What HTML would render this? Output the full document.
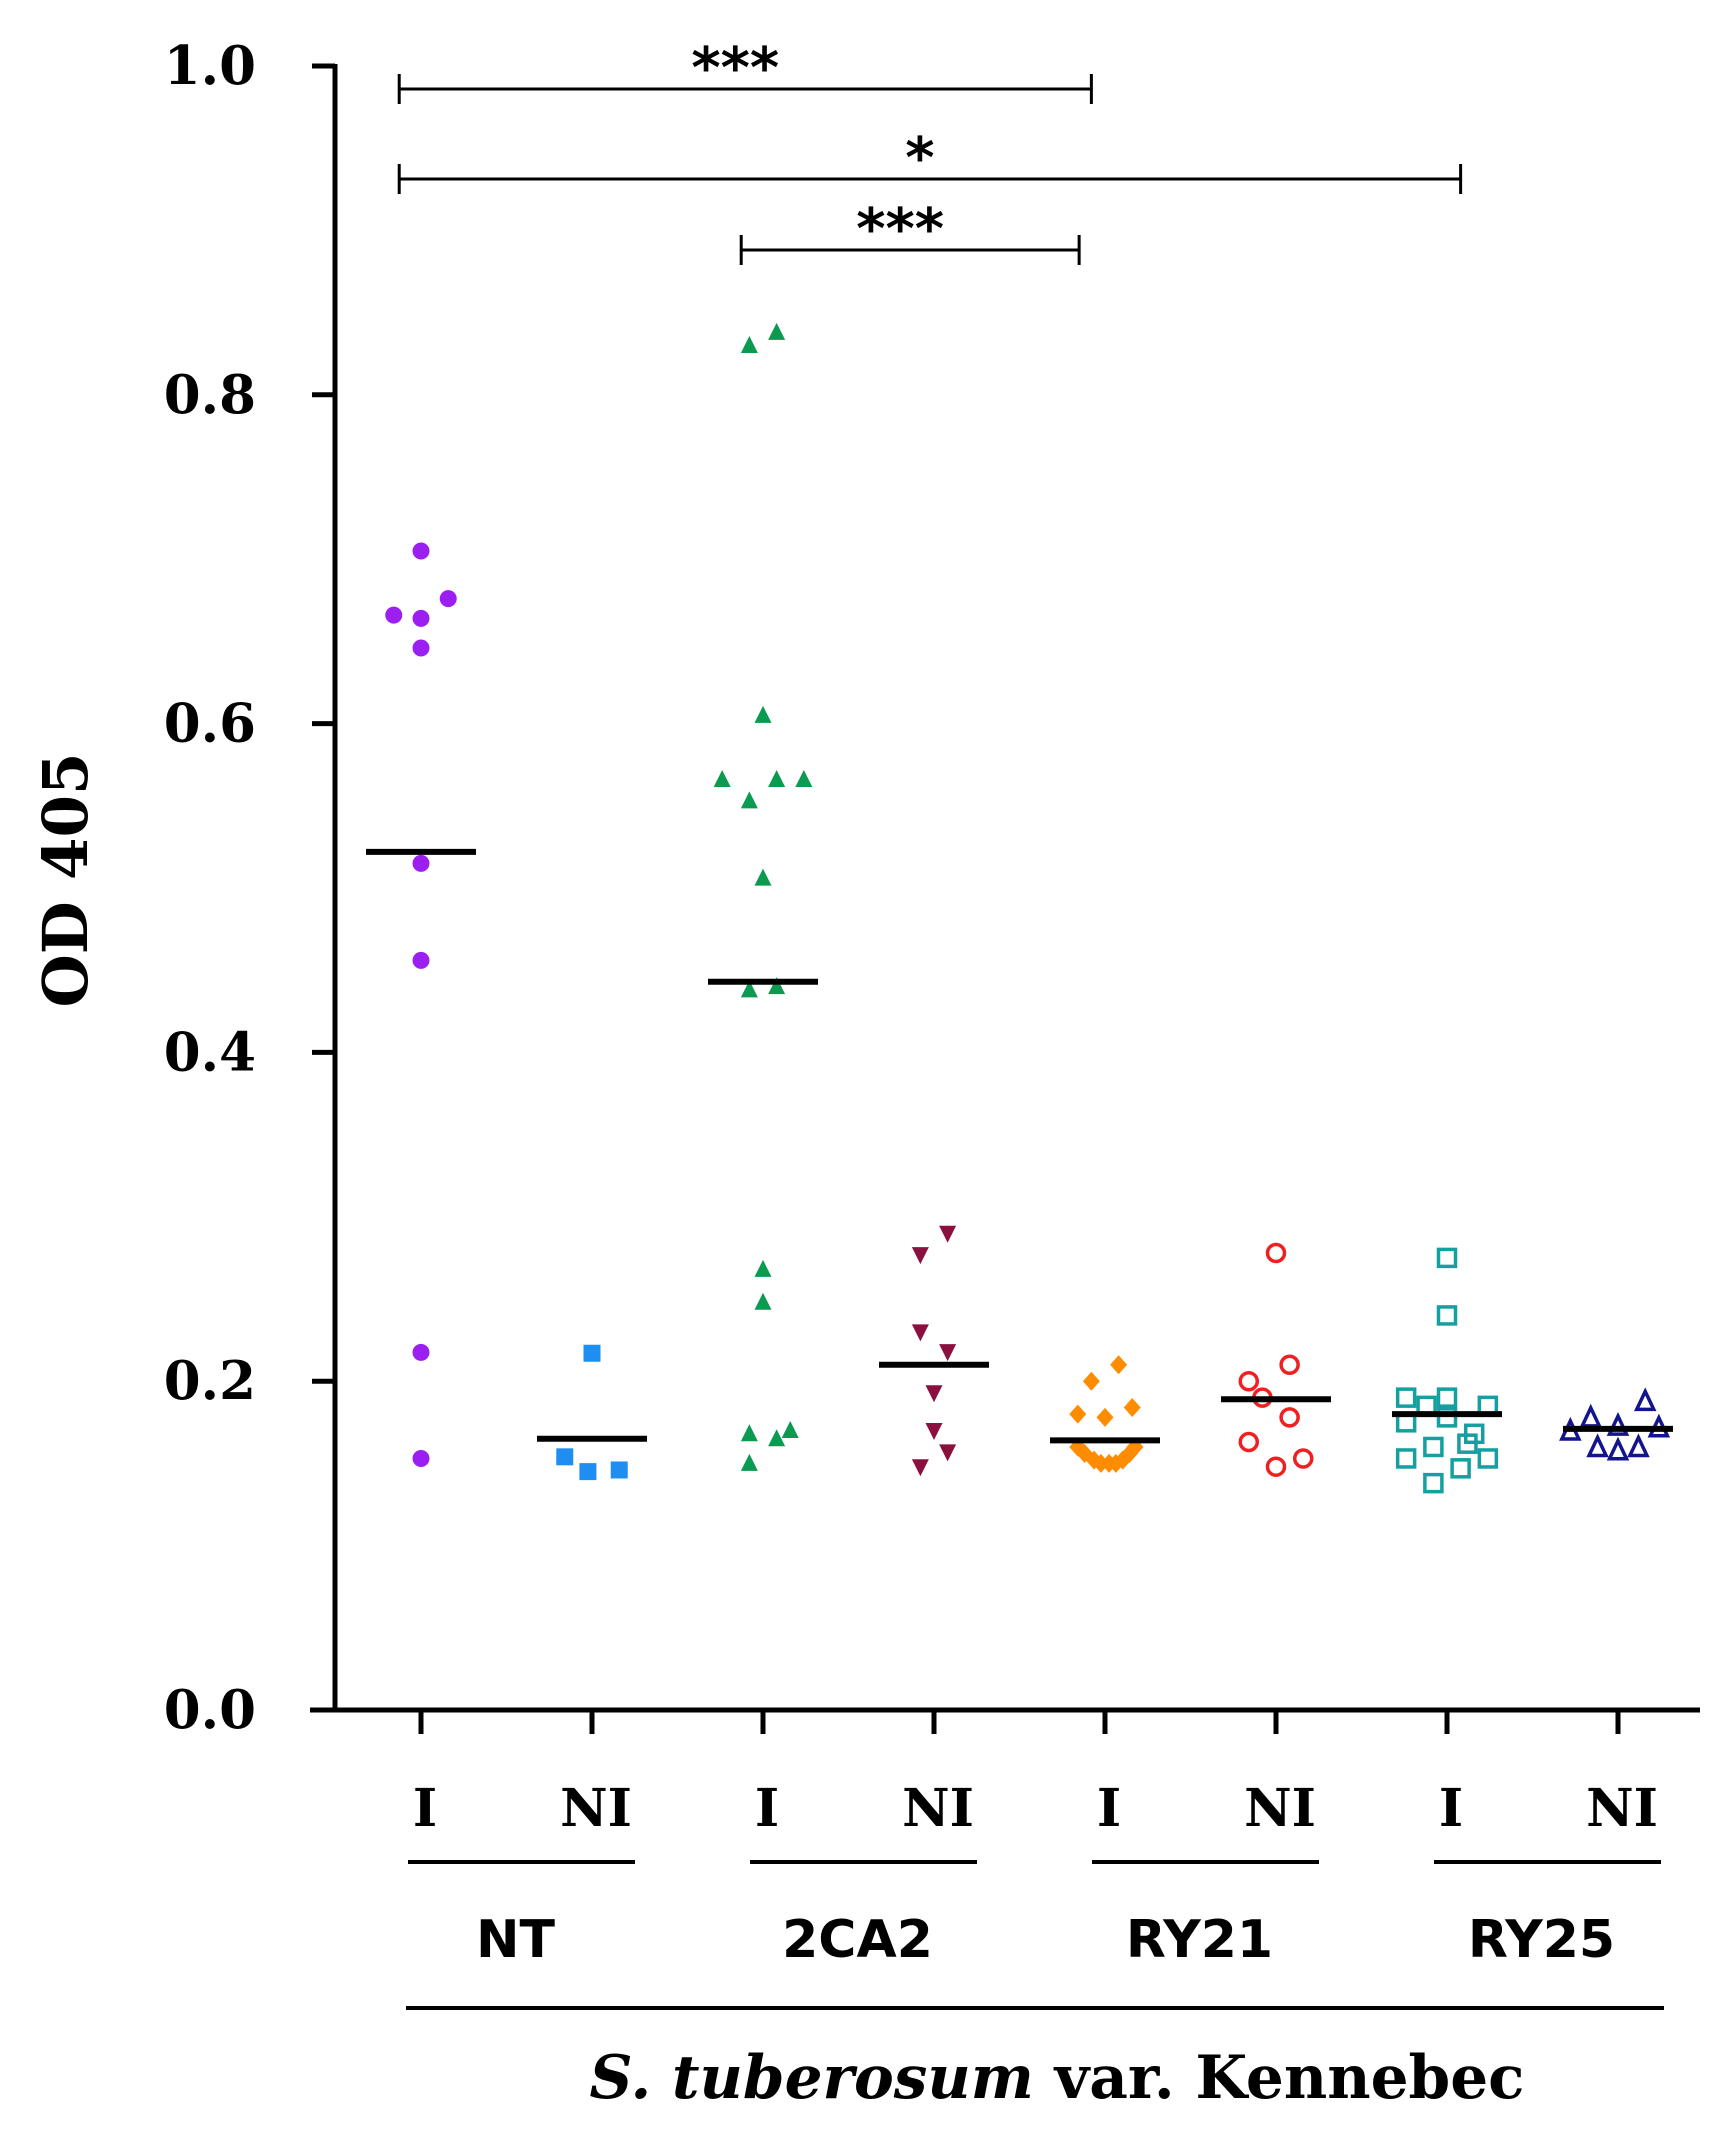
<!DOCTYPE html>
<html><head><meta charset="utf-8"><style>
html,body{margin:0;padding:0;background:#fff}
svg{display:block}
</style></head><body>
<svg id="chart" width="1728" height="2146" viewBox="0 0 1728 2146" xmlns="http://www.w3.org/2000/svg">
<g id="axes"></g>
<g id="marks"></g>
<text x="0" y="0" transform="translate(87,880) rotate(-90)" text-anchor="middle" font-family="DejaVu Serif, serif" font-weight="bold" font-size="62" textLength="255" lengthAdjust="spacingAndGlyphs">OD 405</text>
<text x="1057" y="2098" text-anchor="middle" font-family="DejaVu Serif, serif" font-weight="bold" font-size="60" textLength="935" lengthAdjust="spacingAndGlyphs"><tspan font-style="italic">S. tuberosum</tspan> var. Kennebec</text>
</svg>
<script>
const categories = ["I","NI","I","NI","I","NI","I","NI"];
const groups = ["NT","2CA2","RY21","RY25"];
const yTicks = [0,0.2,0.4,0.6,0.8,1.0];
const yTickLabels = ["0.0","0.2","0.4","0.6","0.8","1.0"];
const colors = ["#9b1ff0","#1e8ff0","#0a9a50","#8b1040","#ff8c00","#f02020","#14a0a0","#14148c"];
const shapes = ["circle","square","tri","tridown","diamond","ocircle","osquare","otri"];
const means = [0.522,0.165,0.443,0.210,0.164,0.189,0.180,0.171];
const values = [
 [0.705,0.666,0.664,0.676,0.646,0.515,0.456,0.2175,0.153],
 [0.217,0.154,0.145,0.146],
 [0.830,0.838,0.605,0.566,0.566,0.566,0.553,0.506,0.438,0.440,0.268,0.248,0.168,0.150,0.165,0.170],
 [0.290,0.277,0.230,0.218,0.193,0.170,0.157,0.148],
 [0.210,0.200,0.180,0.178,0.184,0.160,0.156,0.152,0.150,0.150,0.150,0.152,0.156,0.160],
 [0.278,0.200,0.190,0.210,0.178,0.163,0.148,0.153],
 [0.275,0.240,0.190,0.190,0.185,0.185,0.175,0.178,0.168,0.160,0.153,0.147,0.153,0.138,0.162],
 [0.188,0.178,0.170,0.172,0.173,0.160,0.158,0.160]
];
const jitter = [
 [0,-20,0,20,0,0,0,0,0],
 [0,-20,-3,20],
 [-10,10,0,-30,10,30,-10,0,-10,10,0,0,-10,-10,10,20],
 [10,-10,-10,10,0,0,10,-10],
 [10,-10,-20,0,20,-20,-15,-8,-3,3,8,13,18,22],
 [0,-20,-10,10,10,-20,0,20],
 [0,0,-30,0,-15,30,-30,0,20,-10,-30,10,30,-10,15],
 [20,-20,-35,30,0,-15,0,15]
];
const brackets = [[0,4,"***"],[0,6,"*"],[2,4,"***"]];
const bracketEndOffset = [-10,10,-19];
const bracketY = [89,179,250];

const NS="http://www.w3.org/2000/svg";
const X0=421, DX=171, Y0=1710, YH=1644, S=1.3617;
const xs=i=>X0+DX*i;
const ys=v=>Y0-v*YH;
function el(tag,attrs,parent){const e=document.createElementNS(NS,tag);for(const k in attrs)e.setAttribute(k,attrs[k]);parent.appendChild(e);return e;}
const axes=document.getElementById('axes'), marks=document.getElementById('marks');

let e=el('line',{x1:335,y1:ys(1)-2,x2:335,y2:Y0+2,stroke:'#000','stroke-width':5},axes);


e=el('line',{x1:310,y1:Y0,x2:1700,y2:Y0,stroke:'#000','stroke-width':5},axes);


yTicks.forEach((t,i)=>{
 let l=el('line',{x1:312,y1:ys(t),x2:335,y2:ys(t),stroke:'#000','stroke-width':5},axes);
 
 
 let tx=el('text',{x:256,y:ys(t)+18,'text-anchor':'end','font-family':'DejaVu Serif, serif','font-weight':'bold','font-size':53},axes);
 tx.textContent=yTickLabels[i];
 
 
});
categories.forEach((c,i)=>{
 let l=el('line',{x1:xs(i),y1:Y0,x2:xs(i),y2:Y0+24,stroke:'#000','stroke-width':5},axes);
 
 
 let tx=el('text',{x:xs(i)+4,y:1826,'text-anchor':'middle','font-family':'DejaVu Serif, serif','font-weight':'bold','font-size':52},axes);
 tx.textContent=c;
 
 
});
groups.forEach((g,k)=>{
 const a=xs(2*k)-13,b=xs(2*k+1)+43;
 let l=el('line',{x1:a,y1:1862,x2:b,y2:1862,stroke:'#000','stroke-width':4},axes);
 
 
 let tx=el('text',{x:(a+b)/2-6,y:1957,'text-anchor':'middle','font-family':'DejaVu Sans, sans-serif','font-weight':'bold','font-size':52},axes);
 tx.textContent=g;
 
 
});
e=el('line',{x1:406,y1:2008,x2:1664,y2:2008,stroke:'#000','stroke-width':4},axes);



brackets.forEach((b,k)=>{
 const a=xs(b[0])-16*S,c=xs(b[1])+bracketEndOffset[k]*S,y=bracketY[k];
 const g=el('g',{},axes);
 
 
 el('line',{x1:a,y1:y,x2:c,y2:y,stroke:'#000','stroke-width':3},g);
 el('line',{x1:a,y1:y-15,x2:a,y2:y+15,stroke:'#000','stroke-width':3},g);
 el('line',{x1:c,y1:y-15,x2:c,y2:y+15,stroke:'#000','stroke-width':3},g);
 let tx=el('text',{x:(a+c)/2-10,y:y-2,'text-anchor':'middle','font-family':'DejaVu Sans, sans-serif','font-weight':'bold','font-size':56},g);
 tx.textContent=b[2];
 
 
});

const r=8.5;
values.forEach((arr,i)=>{
 const col=colors[i],sh=shapes[i];
 arr.forEach((v,j)=>{
  const cx=xs(i)+jitter[i][j]*S, cy=ys(v);
  let m;
  if(sh==='circle') m=el('circle',{cx,cy,r:r,fill:col},marks);
  else if(sh==='ocircle') m=el('circle',{cx,cy,r:r,fill:'none',stroke:col,'stroke-width':3.5},marks);
  else if(sh==='square') m=el('rect',{x:cx-r,y:cy-r,width:2*r,height:2*r,fill:col},marks);
  else if(sh==='osquare') m=el('rect',{x:cx-r,y:cy-r,width:2*r,height:2*r,fill:'none',stroke:col,'stroke-width':3.5},marks);
  else if(sh==='tri') m=el('polygon',{points:`${cx},${cy-r-1} ${cx-r},${cy+r-1} ${cx+r},${cy+r-1}`,fill:col},marks);
  else if(sh==='otri') m=el('polygon',{points:`${cx},${cy-r-1} ${cx-r},${cy+r} ${cx+r},${cy+r}`,fill:'none',stroke:col,'stroke-width':3.5},marks);
  else if(sh==='tridown') m=el('polygon',{points:`${cx},${cy+r+1} ${cx-r},${cy-r+1} ${cx+r},${cy-r+1}`,fill:col},marks);
  else m=el('polygon',{points:`${cx},${cy-r-1} ${cx+r},${cy} ${cx},${cy+r+1} ${cx-r},${cy}`,fill:col},marks);
  
  
 });
 let ml=el('line',{x1:xs(i)-55,y1:ys(means[i]),x2:xs(i)+55,y2:ys(means[i]),stroke:'#000','stroke-width':6},marks);
 
 
});
</script>
</body></html>
